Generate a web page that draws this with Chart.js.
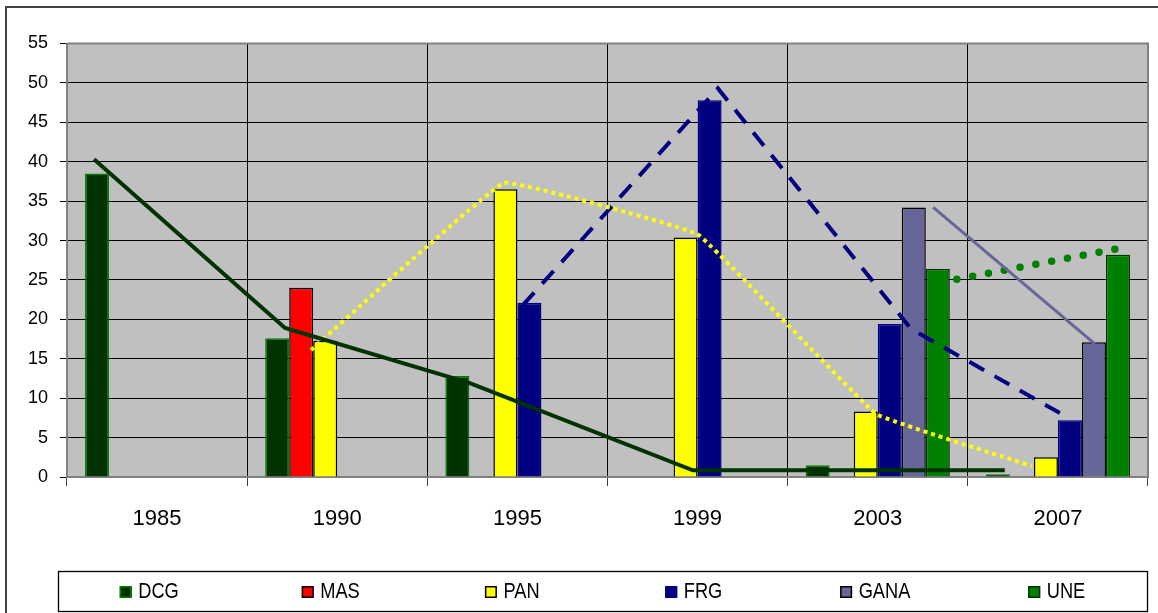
<!DOCTYPE html>
<html><head><meta charset="utf-8">
<script src="https://cdn.jsdelivr.net/npm/chart.js@4.4.1/dist/chart.umd.min.js"></script>
<style>
html,body{margin:0;padding:0;background:#fff;overflow:hidden}
#wrap{position:relative;width:1158px;height:613px}
#wrap canvas{position:absolute;left:0;top:0;display:block}
</style>
</head><body>
<div id="wrap">
<canvas id="bars" width="1158" height="613"></canvas>
<canvas id="lines" width="1158" height="613"></canvas>
</div>
<script>
// ---- data ----
const categories = ['1985', '1990', '1995', '1999', '2003', '2007'];
const seriesNames = ['DCG', 'MAS', 'PAN', 'FRG', 'GANA', 'UNE'];
const dcgValues  = [38.5, 17.6, 12.8, null, 1.5, 0.35];
const masValues  = [null, 24.0, null, null, null, null];
const panValues  = [null, 17.3, 36.5, 30.4, 8.3, 2.5];
const frgValues  = [null, null, 22.1, 47.8, 19.4, 7.2];
const ganaValues = [null, null, null, null, 34.2, 17.1];
const uneValues  = [null, null, null, null, 26.4, 28.2];
const yMin = 0, yMax = 55, yStep = 5;

// overlaid trend lines (x in category units: 0 = left edge of 1985, 6 = right edge of 2007)
const dcgLineX  = [0.15, 1.21, 2.236, 3.474, 5.205];
const dcgLineY  = [40.3, 18.9, 11.9, 0.85, 0.85];
const panLineX  = [1.354, 2.425, 3.50, 4.49, 5.355];
const panLineY  = [16.1, 37.3, 30.8, 8.0, 1.4];
const frgLineX  = [2.53, 3.613, 4.684, 5.566];
const frgLineY  = [21.8, 49.3, 18.8, 7.4];
const ganaLineX = [4.808, 5.705];
const ganaLineY = [34.2, 16.9];
const uneLineX  = [4.939, 5.816];
const uneLineY  = [25.1, 28.9];

// ---- styles ----
const REG = '"Liberation Sans", Arial, sans-serif';
const barStyles = [
  {bg: '#003300', bd: '#008000'},
  {bg: '#FF0000', bd: '#000000'},
  {bg: '#FFFF00', bd: '#000000'},
  {bg: '#000080', bd: '#000080'},
  {bg: '#666699', bd: '#000000'},
  {bg: '#008000', bd: '#003300'}
];
const barValues = [dcgValues, masValues, panValues, frgValues, ganaValues, uneValues];
const pts = (xs, ys) => xs.map((x, i) => ({x: x, y: ys[i]}));

const PLOT_L = 67, PLOT_R = 1148, PLOT_T = 43.5, PLOT_B = 477;
const W = 1158, H = 613;

const barDatasets = seriesNames.map((name, i) => ({
  label: name, data: barValues[i],
  backgroundColor: barStyles[i].bg, borderColor: barStyles[i].bd, borderWidth: 1.5,
  barPercentage: 1.0, categoryPercentage: 0.8
}));

const lineCommon = {pointRadius: 0, fill: false, tension: 0};
const lineDatasets = [
  Object.assign({}, lineCommon, {label: 'DCG trend', data: pts(dcgLineX, dcgLineY),
   borderColor: '#003300', borderWidth: 4}),
  Object.assign({}, lineCommon, {label: 'PAN trend', data: pts(panLineX, panLineY),
   borderColor: '#FFFF00', borderWidth: 4, borderDash: [4, 4], tension: 0.06}),
  Object.assign({}, lineCommon, {label: 'FRG trend', data: pts(frgLineX, frgLineY),
   borderColor: '#000080', borderWidth: 4, borderDash: [17, 12]}),
  Object.assign({}, lineCommon, {label: 'GANA trend', data: pts(ganaLineX, ganaLineY),
   borderColor: '#666699', borderWidth: 3}),
  Object.assign({}, lineCommon, {label: 'UNE trend', data: pts(uneLineX, uneLineY),
   borderColor: '#008000', borderWidth: 7.5, borderDash: [0, 16.08], borderCapStyle: 'round'})
];

const decorPlugin = {
  id: 'decor',
  beforeDraw(chart) {
    const ctx = chart.ctx, a = chart.chartArea;
    ctx.save();
    ctx.fillStyle = '#fff';
    ctx.fillRect(0, 0, chart.width, chart.height);
    ctx.fillStyle = '#C0C0C0';
    ctx.fillRect(a.left, a.top, a.right - a.left, a.bottom - a.top);
    ctx.restore();
  },
  beforeDatasetsDraw(chart) {
    const ctx = chart.ctx, a = chart.chartArea;
    ctx.save();
    ctx.strokeStyle = '#808080';
    ctx.lineWidth = 2;
    ctx.beginPath();
    ctx.moveTo(a.left, a.top);
    ctx.lineTo(a.right, a.top);
    ctx.lineTo(a.right, a.bottom);
    ctx.stroke();
    ctx.restore();
  },
  afterDraw(chart) {
    const ctx = chart.ctx;
    ctx.save();
    // outer chart border
    ctx.strokeStyle = '#404040';
    ctx.lineWidth = 2;
    ctx.beginPath();
    ctx.moveTo(6, chart.height + 2);
    ctx.lineTo(6, 7);
    ctx.lineTo(chart.width + 2, 7);
    ctx.stroke();
    // legend
    const L = 58.5, R = 1147.5, T = 571.5, B = 611.5;
    ctx.strokeStyle = '#000';
    ctx.lineWidth = 1.3;
    ctx.strokeRect(L, T, R - L, B - T);
    const colW = (R - L) / seriesNames.length;
    const sx = 0.83;
    ctx.font = '22px ' + REG;
    ctx.textBaseline = 'alphabetic';
    ctx.textAlign = 'left';
    seriesNames.forEach((name, i) => {
      const tw = ctx.measureText(name).width * sx;
      const mw = 12, gap = 6.5;
      const itemW = mw + gap + tw;
      const x0 = L + colW * (i + 0.5) - itemW / 2;
      ctx.fillStyle = barStyles[i].bg;
      ctx.fillRect(x0, 586, mw, mw);
      ctx.strokeStyle = barStyles[i].bd;
      ctx.lineWidth = 1.5;
      ctx.strokeRect(x0 + 0.75, 586.75, mw - 1.5, mw - 1.5);
      ctx.fillStyle = '#000';
      ctx.save();
      ctx.translate(x0 + mw + gap, 598.3);
      ctx.scale(sx, 1);
      ctx.fillText(name, 0, 0);
      ctx.restore();
    });
    ctx.restore();
  }
};

// bar chart with axes
new Chart(document.getElementById('bars'), {
  type: 'bar',
  data: {labels: categories, datasets: barDatasets},
  options: {
    responsive: false,
    animation: false,
    devicePixelRatio: 1,
    layout: {padding: {left: 0, top: PLOT_T, right: W - PLOT_R, bottom: 0}},
    plugins: {legend: {display: false}, tooltip: {enabled: false}, title: {display: false}},
    scales: {
      x: {
        type: 'category', position: 'bottom', offset: true,
        grid: {display: true, offset: true, color: '#000', lineWidth: 1, drawTicks: true, tickLength: 9, tickColor: '#404040'},
        border: {display: true, color: '#808080', width: 2},
        ticks: {color: '#000', font: {family: REG, size: 22}, padding: 20, maxRotation: 0, autoSkip: false},
        afterFit(s) { s.height = H - PLOT_B; }
      },
      y: {
        type: 'linear', position: 'left', min: yMin, max: yMax,
        grid: {color: '#000', lineWidth: 1, drawTicks: true, tickLength: 7, tickColor: '#000'},
        border: {display: true, color: '#808080', width: 2},
        ticks: {stepSize: yStep, color: '#000', font: {family: REG, size: 18}, padding: 12},
        afterFit(s) { s.width = PLOT_L; }
      }
    }
  },
  plugins: [decorPlugin]
});

// overlaid trend lines on the same plot area (transparent canvas)
new Chart(document.getElementById('lines'), {
  type: 'line',
  data: {datasets: lineDatasets},
  options: {
    responsive: false,
    animation: false,
    devicePixelRatio: 1,
    layout: {padding: {left: PLOT_L, top: PLOT_T, right: W - PLOT_R, bottom: H - PLOT_B}},
    plugins: {legend: {display: false}, tooltip: {enabled: false}, title: {display: false}},
    scales: {
      x: {type: 'linear', display: false, min: 0, max: categories.length},
      y: {type: 'linear', display: false, min: yMin, max: yMax}
    }
  }
});
</script>
</body></html>
